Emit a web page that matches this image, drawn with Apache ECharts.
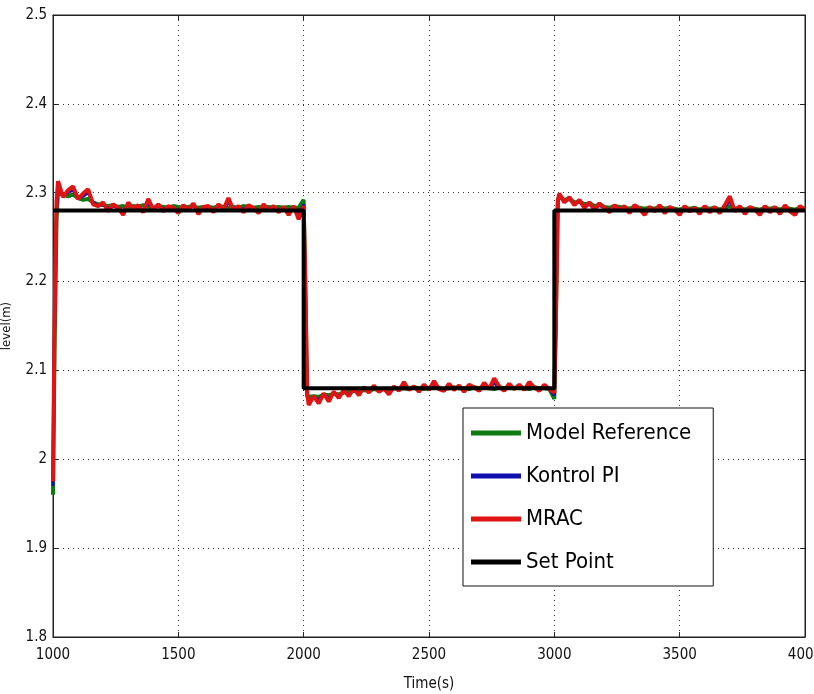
<!DOCTYPE html>
<html>
<head>
<meta charset="utf-8">
<script src="https://cdn.jsdelivr.net/npm/echarts@6/dist/echarts.min.js"></script>
<style>
  html, body { margin: 0; padding: 0; background: #fff; }
  #chart { width: 814px; height: 694px; }
</style>
</head>
<body>
<div id="chart"></div>
<script>
// Sample times: each 1000 s segment starts with a few fine samples to catch the step.
const segmentStarts = [1000, 2000, 3000];
const endTime = 4000;
const time = [];
segmentStarts.forEach(function (s) {
  time.push(s, s + 6, s + 14);
  for (let t = s + 20; t < s + 1000; t += 20) time.push(t);
});
time.push(endTime);

// Set point levels for each segment
const stepTimes = [1000, 2000, 3000, 4000];
const setLevels = [2.28, 2.08, 2.28];

// Reference model output
const modelReference = [
  1.96, 2.12, 2.27, 2.300, 2.298, 2.296, 2.298, 2.294, 2.292, 2.293, 2.289, 2.287, 2.286,
  2.285, 2.286, 2.284, 2.285, 2.283, 2.285, 2.284, 2.286, 2.284, 2.283, 2.285, 2.284, 2.283,
  2.285, 2.284, 2.283, 2.284, 2.285, 2.283, 2.284, 2.284, 2.283, 2.285, 2.284, 2.283, 2.284,
  2.283, 2.285, 2.284, 2.283, 2.284, 2.283, 2.284, 2.283, 2.284, 2.283, 2.284, 2.283, 2.283,
  2.292, 2.20, 2.070, 2.068, 2.071, 2.070, 2.073, 2.072, 2.074, 2.073, 2.075, 2.076, 2.077,
  2.076, 2.078, 2.077, 2.079, 2.078, 2.079, 2.078, 2.080, 2.079, 2.080, 2.079, 2.081, 2.080,
  2.079, 2.080, 2.081, 2.080, 2.079, 2.080, 2.081, 2.080, 2.080, 2.079, 2.081, 2.080, 2.082,
  2.080, 2.079, 2.081, 2.080, 2.081, 2.080, 2.081, 2.080, 2.079, 2.081, 2.080, 2.080, 2.079,
  2.068, 2.16, 2.290, 2.296, 2.292, 2.293, 2.289, 2.290, 2.287, 2.288, 2.285, 2.286, 2.284,
  2.283, 2.285, 2.284, 2.283, 2.282, 2.284, 2.283, 2.282, 2.283, 2.282, 2.284, 2.282, 2.283,
  2.282, 2.281, 2.283, 2.282, 2.283, 2.281, 2.283, 2.282, 2.283, 2.281, 2.283, 2.285, 2.282,
  2.283, 2.281, 2.283, 2.282, 2.281, 2.283, 2.282, 2.283, 2.281, 2.283, 2.282, 2.281, 2.283,
  2.282
];

// PI controller response
const kontrolPI = [
  1.97, 2.14, 2.28, 2.306, 2.297, 2.300, 2.303, 2.294, 2.296, 2.300, 2.289, 2.285, 2.287,
  2.282, 2.285, 2.283, 2.279, 2.287, 2.283, 2.284, 2.280, 2.288, 2.282, 2.285, 2.281, 2.284,
  2.283, 2.280, 2.284, 2.282, 2.286, 2.279, 2.283, 2.284, 2.280, 2.285, 2.282, 2.289, 2.282,
  2.284, 2.281, 2.284, 2.283, 2.279, 2.285, 2.282, 2.284, 2.280, 2.283, 2.278, 2.284, 2.275,
  2.287, 2.21, 2.074, 2.064, 2.070, 2.067, 2.073, 2.068, 2.075, 2.071, 2.076, 2.073, 2.078,
  2.074, 2.080, 2.076, 2.081, 2.077, 2.079, 2.075, 2.080, 2.078, 2.083, 2.079, 2.081, 2.078,
  2.082, 2.079, 2.084, 2.080, 2.079, 2.083, 2.079, 2.081, 2.078, 2.082, 2.080, 2.079, 2.083,
  2.080, 2.086, 2.081, 2.079, 2.083, 2.080, 2.082, 2.079, 2.084, 2.081, 2.079, 2.082, 2.079,
  2.072, 2.15, 2.291, 2.297, 2.290, 2.293, 2.287, 2.290, 2.284, 2.287, 2.282, 2.286, 2.283,
  2.280, 2.284, 2.281, 2.283, 2.279, 2.284, 2.282, 2.278, 2.283, 2.280, 2.284, 2.279, 2.283,
  2.281, 2.278, 2.283, 2.280, 2.282, 2.278, 2.283, 2.279, 2.282, 2.279, 2.284, 2.291, 2.280,
  2.283, 2.278, 2.282, 2.281, 2.277, 2.283, 2.279, 2.282, 2.278, 2.284, 2.280, 2.277, 2.283,
  2.281
];

// MRAC controller response
const mrac = [
  1.975, 2.15, 2.29, 2.313, 2.295, 2.303, 2.307, 2.293, 2.299, 2.304, 2.287, 2.285, 2.289,
  2.279, 2.287, 2.283, 2.275, 2.289, 2.282, 2.286, 2.278, 2.293, 2.281, 2.287, 2.279, 2.285,
  2.283, 2.277, 2.286, 2.280, 2.288, 2.276, 2.284, 2.285, 2.278, 2.287, 2.281, 2.294, 2.280,
  2.285, 2.278, 2.286, 2.283, 2.277, 2.287, 2.280, 2.285, 2.278, 2.284, 2.275, 2.285, 2.270,
  2.285, 2.21, 2.075, 2.061, 2.071, 2.063, 2.074, 2.065, 2.076, 2.069, 2.078, 2.071, 2.080,
  2.072, 2.081, 2.075, 2.083, 2.076, 2.080, 2.073, 2.082, 2.077, 2.087, 2.078, 2.082, 2.076,
  2.084, 2.078, 2.088, 2.079, 2.077, 2.085, 2.078, 2.083, 2.076, 2.084, 2.081, 2.077, 2.086,
  2.079, 2.091, 2.082, 2.077, 2.085, 2.079, 2.084, 2.078, 2.087, 2.081, 2.077, 2.084, 2.079,
  2.075, 2.15, 2.292, 2.299, 2.289, 2.295, 2.286, 2.292, 2.283, 2.289, 2.281, 2.288, 2.283,
  2.278, 2.286, 2.280, 2.285, 2.277, 2.286, 2.282, 2.275, 2.284, 2.279, 2.286, 2.277, 2.284,
  2.281, 2.275, 2.285, 2.279, 2.283, 2.276, 2.285, 2.278, 2.284, 2.277, 2.286, 2.296, 2.279,
  2.285, 2.276, 2.284, 2.281, 2.275, 2.285, 2.278, 2.284, 2.276, 2.286, 2.279, 2.275, 2.285,
  2.281
];

// Axis ticks
const xTicks = { min: 1000, max: 4000, step: 500 };
const yTicks = { min: 1.8, max: 2.5, step: 0.1 };

const pair = (vals) => time.map((t, i) => [t, vals[i]]);

// Set point drawn as a staircase
const setPointData = [];
setLevels.forEach(function (lv, i) {
  setPointData.push([stepTimes[i], lv], [stepTimes[i + 1], lv]);
});

const FONT = "'Liberation Sans Narrow', 'DejaVu Sans Condensed', 'Liberation Sans', sans-serif";

const chart = echarts.init(document.getElementById('chart'), null, { renderer: 'canvas' });

const baseX = {
  type: 'value', min: xTicks.min, max: xTicks.max, interval: xTicks.step
};
const baseY = {
  type: 'value', min: yTicks.min, max: yTicks.max, interval: yTicks.step
};
const tick = { show: true, inside: true, length: 5, lineStyle: { color: '#222' } };
const axisLn = { show: true, lineStyle: { color: '#222', width: 1 } };

chart.setOption({
  animation: false,
  backgroundColor: '#ffffff',
  grid: {
    left: 53, right: 9, top: 15, bottom: 57,
    containLabel: false, outerBoundsMode: 'none',
    show: true, borderColor: '#222', borderWidth: 1
  },
  xAxis: [
    Object.assign({}, baseX, {
      position: 'bottom',
      name: 'Time(s)', nameLocation: 'middle', nameGap: 40,
      nameTextStyle: { fontFamily: FONT, fontSize: 15, color: '#111' },
      axisLine: axisLn, axisTick: tick,
      axisLabel: {
        fontFamily: FONT, fontSize: 15, color: '#111', margin: 11,
        showMaxLabel: true, hideOverlap: false,
        formatter: (v) => String(v)
      },
      splitLine: { show: true, lineStyle: { color: '#333', type: [1, 4], width: 1 } }
    }),
    Object.assign({}, baseX, {
      position: 'top',
      axisLine: axisLn, axisTick: tick,
      axisLabel: { show: false },
      splitLine: { show: false }
    })
  ],
  yAxis: [
    Object.assign({}, baseY, {
      position: 'left',
      name: 'level(m)', nameLocation: 'middle', nameGap: 40, nameRotate: 90,
      nameTextStyle: { fontFamily: FONT, fontSize: 13, color: '#111' },
      axisLine: axisLn, axisTick: tick,
      axisLabel: {
        fontFamily: FONT, fontSize: 15, color: '#111', margin: 6,
        formatter: (v) => String(parseFloat(v.toFixed(1)))
      },
      splitLine: { show: true, lineStyle: { color: '#333', type: [1, 4], width: 1 } }
    }),
    Object.assign({}, baseY, {
      position: 'right',
      axisLine: axisLn, axisTick: tick,
      axisLabel: { show: false },
      splitLine: { show: false }
    })
  ],
  legend: {
    orient: 'vertical',
    left: 463, top: 408,
    padding: [10, 22, 9, 8],
    backgroundColor: '#ffffff',
    borderColor: '#111', borderWidth: 1, borderRadius: 0,
    icon: 'rect', itemWidth: 50, itemHeight: 5, itemGap: 13, itemTextGap: 6,
    textStyle: { fontFamily: FONT, fontSize: 22, color: '#000', lineHeight: 30 },
    data: ['Model Reference', 'Kontrol PI', 'MRAC', 'Set Point']
  },
  series: [
    {
      name: 'Model Reference', type: 'line', data: pair(modelReference),
      showSymbol: false, symbol: 'none', color: '#0f7a12',
      lineStyle: { width: 4, color: '#0f7a12' }
    },
    {
      name: 'Kontrol PI', type: 'line', data: pair(kontrolPI),
      showSymbol: false, symbol: 'none', color: '#1010b0',
      lineStyle: { width: 3, color: '#1010b0' }
    },
    {
      name: 'MRAC', type: 'line', data: pair(mrac),
      showSymbol: false, symbol: 'none', color: '#e01414',
      lineStyle: { width: 4, color: '#e01414' }
    },
    {
      name: 'Set Point', type: 'line', data: setPointData,
      showSymbol: false, symbol: 'none', color: '#000000',
      lineStyle: { width: 4, color: '#000000' }
    }
  ]
});
</script>
</body>
</html>
